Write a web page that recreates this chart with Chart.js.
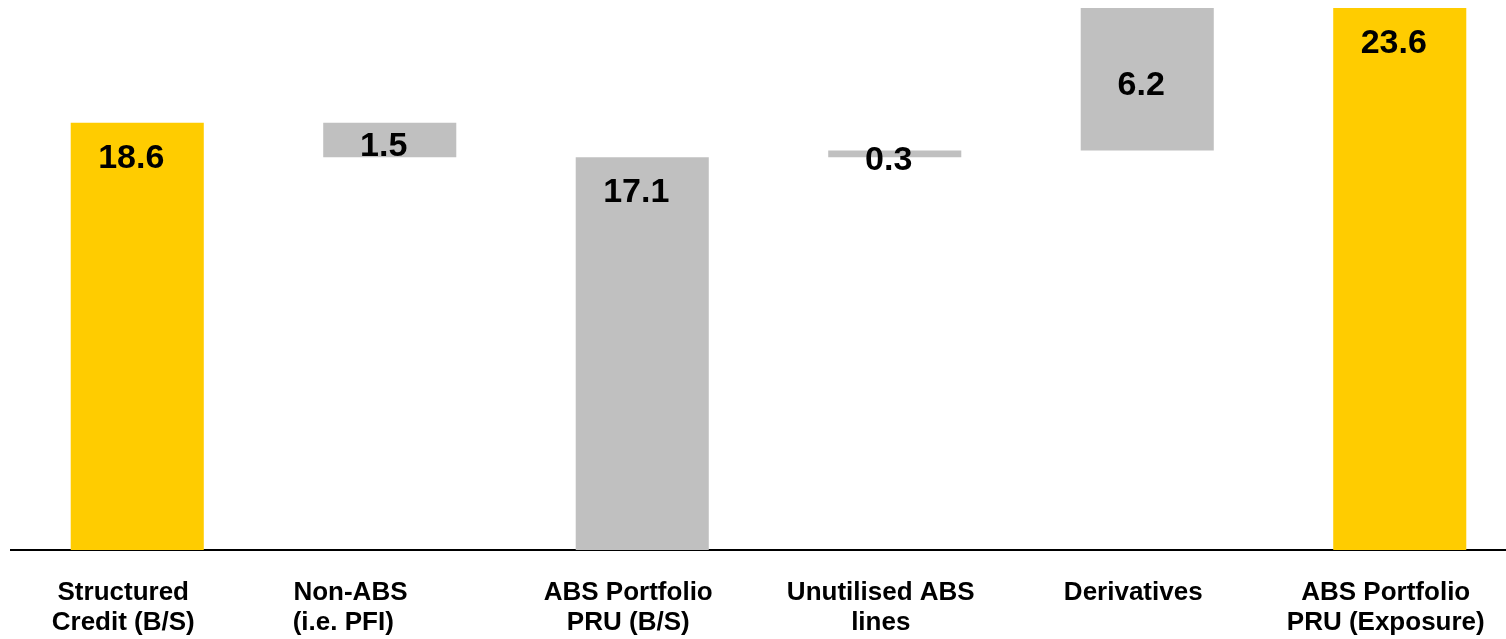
<!DOCTYPE html>
<html>
<head>
<meta charset="utf-8">
<script src="https://cdn.jsdelivr.net/npm/chart.js@4/dist/chart.umd.min.js"></script>
<style>
  html, body { margin: 0; padding: 0; background: #ffffff; overflow: hidden; }
  #wrap { position: relative; width: 1530px; height: 639px; }
</style>
</head>
<body>
<div id="wrap"><canvas id="chart"></canvas></div>
<script>
// Bridge from the balance-sheet structured credit book to the ABS exposure (bn)
const categories = [
  ['Structured', 'Credit (B/S)'],
  ['Non-ABS', '(i.e. PFI)'],
  ['ABS Portfolio', 'PRU (B/S)'],
  ['Unutilised ABS', 'lines'],
  ['Derivatives'],
  ['ABS Portfolio', 'PRU (Exposure)']
];
const stepValues = [18.6, 1.5, 17.1, 0.3, 6.2, 23.6];
const stepKinds  = ['total', 'down', 'total', 'up', 'up', 'total'];

const YELLOW = '#FFCC00';
const GREY = '#C0C0C0';

// Turn the steps into floating [start, end] ranges for the waterfall
const ranges = [];
let running = 0;
stepValues.forEach((v, i) => {
  const kind = stepKinds[i];
  if (kind === 'total') {
    running = v;
    ranges.push([0, v]);
  } else if (kind === 'down') {
    ranges.push([running - v, running]);
    running -= v;
  } else {
    ranges.push([running, running + v]);
    running += v;
  }
});
const barColors = stepKinds.map((k, i) =>
  (k === 'total' && (i === 0 || i === stepKinds.length - 1)) ? YELLOW : GREY);

const FONT = "Arial, 'Liberation Sans', sans-serif";

// Writes each step's value on its bar
const valueLabels = {
  id: 'valueLabels',
  afterDatasetsDraw(chart) {
    const ctx = chart.ctx;
    const meta = chart.getDatasetMeta(0);
    ctx.save();
    ctx.font = 'bold 34px ' + FONT;
    ctx.fillStyle = '#000000';
    ctx.textAlign = 'center';
    ctx.textBaseline = 'alphabetic';
    meta.data.forEach((bar, i) => {
      const top = Math.min(bar.y, bar.base);
      const bottom = Math.max(bar.y, bar.base);
      const y = stepKinds[i] === 'total' ? top + 45 : (top + bottom) / 2 + 16;
      ctx.fillText(stepValues[i].toFixed(1), bar.x - 6, y);
    });
    ctx.restore();
  }
};

// The PFI caption is set flush-left inside its box; trailing spaces keep it there
function padRight(s, n) { return s + ' '.repeat(n); }

new Chart(document.getElementById('chart'), {
  type: 'bar',
  data: {
    labels: categories,
    datasets: [{
      data: ranges,
      backgroundColor: barColors,
      borderWidth: 0,
      barPercentage: 1.0,
      categoryPercentage: 0.527
    }]
  },
  options: {
    responsive: true,
    maintainAspectRatio: false,
    animation: false,
    layout: { padding: { left: 11, right: 4, top: 8, bottom: 0 } },
    plugins: {
      legend: { display: false },
      tooltip: { enabled: false }
    },
    scales: {
      x: {
        grid: { display: false, drawTicks: false },
        border: { display: true, color: '#000000', width: 2 },
        ticks: {
          color: '#000000',
          padding: 28,
          labelOffset: -14,
          maxRotation: 0,
          autoSkip: false,
          font: { family: FONT, size: 26, weight: 'bold', lineHeight: 1.15 },
          callback(value, index) {
            const lines = categories[index];
            if (index === 1) return [padRight(lines[0], 7), padRight(lines[1], 9)];
            return lines;
          }
        },
        afterFit(scale) { scale.height = 89; }
      },
      y: {
        display: false,
        min: 0,
        max: 23.6
      }
    }
  },
  plugins: [valueLabels]
});
</script>
</body>
</html>
